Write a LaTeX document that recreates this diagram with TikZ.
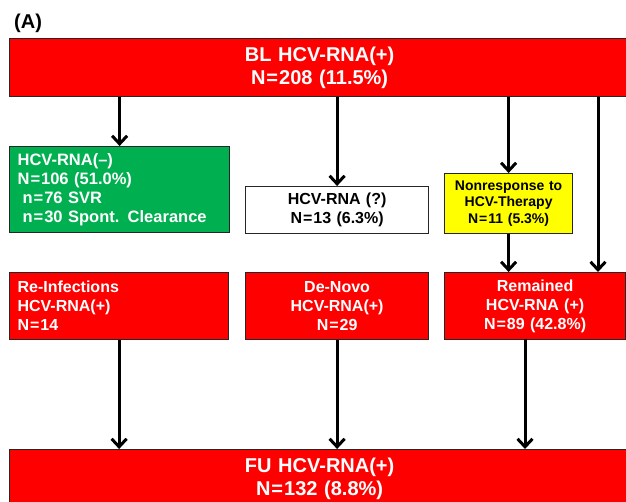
\documentclass[tikz,border=0pt]{standalone}
\usepackage{fontspec}
\setmainfont{Liberation Sans}
\usepackage{tikz}
\usetikzlibrary{arrows.meta}

\definecolor{boxred}{RGB}{255,0,0}
\definecolor{boxgreen}{RGB}{0,176,80}
\definecolor{boxyellow}{RGB}{255,255,0}

\newcommand{\eqs}{\kern1pt=\kern1pt}

\tikzset{
  box/.style={draw=black!85, line width=1.2pt, anchor=north west, inner ysep=0pt, inner xsep=8pt},
  redbox/.style={box, fill=boxred, text=white},
  flow/.style={black, line width=3pt, -{Straight Barb[length=8pt,width=15pt]}},
  bigfont/.style={font=\fontsize{20}{23}\selectfont\bfseries},
  midfont/.style={font=\fontsize{16}{19}\selectfont\bfseries},
  smallfont/.style={font=\fontsize{14}{16.5}\selectfont\bfseries}
}

\begin{document}
\begin{tikzpicture}[x=1pt, y=-1pt]
        \clip (0,0) rectangle (626,502);

        \node[bigfont, anchor=west, inner sep=0pt] (paneltag) at (14,23) {(A)};

        \node[redbox, bigfont, text width=604pt, align=center, minimum height=58pt] (bl) at (9,38) {BL HCV-RNA(+)\\N\eqs208 (11.5\%)};

        \node[box, fill=boxgreen, text=white, font=\fontsize{16.5}{19}\selectfont\bfseries, text width=204pt, align=left, minimum height=86pt] (neg) at (9,146)
          {HCV-RNA(--)\\N\eqs106 (51.0\%)\\\hspace*{5pt}n\eqs76 SVR\\\hspace*{5pt}n\eqs30 Spont. Clearance};
        \node[box, fill=white, midfont, text width=167pt, align=center, minimum height=47pt] (unk) at (245,186) {HCV-RNA (?)\\N\eqs13 (6.3\%)};
        \node[box, fill=boxyellow, smallfont, text width=112pt, align=center, minimum height=60pt] (nonresp) at (444,173)
          {Nonresponse to\\HCV-Therapy\\N\eqs11 (5.3\%)};

        \node[redbox, midfont, text width=203pt, align=left, minimum height=67pt] (reinf) at (9,272) {Re-Infections\\HCV-RNA(+)\\N\eqs14};
        \node[redbox, midfont, text width=167pt, align=center, minimum height=67pt] (denovo) at (245,272) {De-Novo\\HCV-RNA(+)\\N\eqs29};
        \node[redbox, midfont, text width=165pt, align=center, minimum height=67pt] (remained) at (444,272) {Remained\\HCV-RNA (+)\\N\eqs89 (42.8\%)};

        \node[redbox, bigfont, text width=604pt, align=center, minimum height=59pt] (fu) at (9,449) {FU HCV-RNA(+)\\N\eqs132 (8.8\%)};

        \coordinate (rightdrop) at (598,272);
        \coordinate (remout) at (525,339);

        \draw[flow] (neg.north |- bl.south) -- (neg.north);
        \draw[flow] (unk.north |- bl.south) -- (unk.north);
        \draw[flow] (nonresp.north |- bl.south) -- (nonresp.north);
        \draw[flow] (rightdrop |- bl.south) -- (rightdrop);
        \draw[flow] (nonresp.south) -- (nonresp.south |- remained.north);

        \draw[flow] (reinf.south) -- (reinf.south |- fu.north);
        \draw[flow] (denovo.south) -- (denovo.south |- fu.north);
        \draw[flow] (remout) -- (remout |- fu.north);
      \end{tikzpicture}
\end{document}
